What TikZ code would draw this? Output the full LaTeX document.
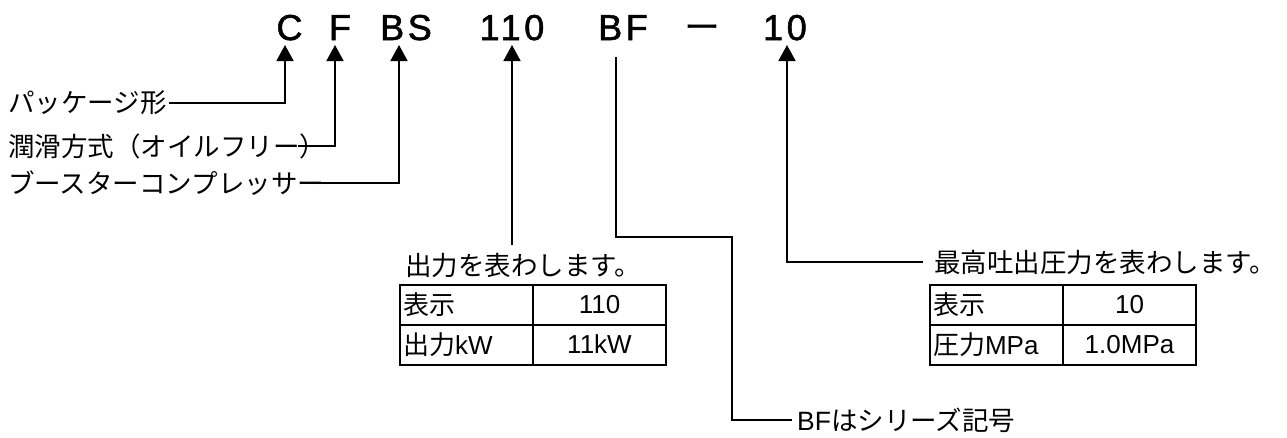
\documentclass[tikz,border=0pt]{standalone}
\usepackage{fontspec}
\setmainfont{Noto Sans CJK JP}
\newfontfamily\jpfont{Noto Sans CJK JP}
\newfontfamily\latfont{Liberation Sans}
\newfontfamily\codefont[LetterSpace=10,FakeBold=1.5]{Liberation Sans}
\usetikzlibrary{
  arrows.meta,
  positioning
}

\begin{document}
\begin{tikzpicture}[x=1pt,y=-1pt,
  every node/.style={inner sep=2pt},
  code/.style={anchor=base,inner sep=0pt,font=\fontsize{36}{36}\selectfont\codefont},
  lbl/.style={anchor=west,font=\fontsize{26.5}{26.5}\selectfont\jpfont},
  cell/.style={rectangle,draw=black,line width=2pt,minimum height=40pt,text width=127pt,inner xsep=3pt},
  cellL/.style={cell,align=left,font=\fontsize{26}{26}\selectfont\jpfont},
  cellR/.style={cell,align=center,font=\fontsize{26}{26}\selectfont\latfont},
  wire/.style={line width=1.8pt},
  arr/.style={wire,-{Triangle[width=17pt,length=16pt]}}]
  \useasboundingbox (0,0) rectangle (1287,437);
  % model code
  \node[code] (cC) at (289.5,40) {C};
  \node[code] (cF) at (340,40) {F};
  \node[code] (cBS) at (406,40) {BS};
  \node[code] (c110) at (512,40) {110};
  \node[code] (cBF) at (623,40) {BF};
  \node[code,font=\fontsize{36}{36}\selectfont\jpfont] (cdash) at (702,40) {ー};
  \node[code] (c10) at (785,40) {10};
  \coordinate (tC) at (285,45);
  \coordinate (tF) at (335,45);
  \coordinate (tBS) at (399,45);
  \coordinate (t110) at (512,45);
  \coordinate (t10) at (787,45);
  \coordinate (tBF) at (616,57);
  \coordinate (bfturn) at (732,237);
  % left labels
  \node[lbl] (pkg) at (6,103) {パッケージ形};
  \node[lbl] (lub) at (6,146) {潤滑方式（オイルフリー）};
  \node[lbl] (bst) at (6,183) {ブースターコンプレッサー};
  \draw[arr] (pkg.east) -| (tC);
  \draw[arr] ([xshift=-30pt]lub.east) -| (tF);
  \draw[arr] ([xshift=-10pt]bst.east) -| (tBS);
  % output
  \node[lbl,anchor=center] (out) at (523,265) {出力を表わします。};
  \draw[arr] ([yshift=6pt]out.north -| t110) -- (t110);
  \node[cellL] (o11) at (466.5,304.5) {表示};
  \node[cellR] (o12) at (599.5,304.5) {110};
  \node[cellL] (o21) at (466.5,344.5) {出力{\latfont kW}};
  \node[cellR] (o22) at (599.5,344.5) {11kW};
  % pressure
  \node[lbl,inner xsep=11pt] (prs) at (923,262) {最高吐出圧力を表わします。};
  \draw[arr] (prs.west) -| (t10);
  \node[cellL] (p11) at (996.5,304.5) {表示};
  \node[cellR] (p12) at (1129.5,304.5) {10};
  \node[cellL] (p21) at (996.5,344.5) {圧力{\latfont MPa}};
  \node[cellR] (p22) at (1129.5,344.5) {1.0MPa};
  % series
  \node[lbl,inner xsep=5pt] (ser) at (792,420) {{\latfont BF}はシリーズ記号};
  \draw[wire] (tBF) |- (bfturn) |- (ser.west);
\end{tikzpicture}
\end{document}
